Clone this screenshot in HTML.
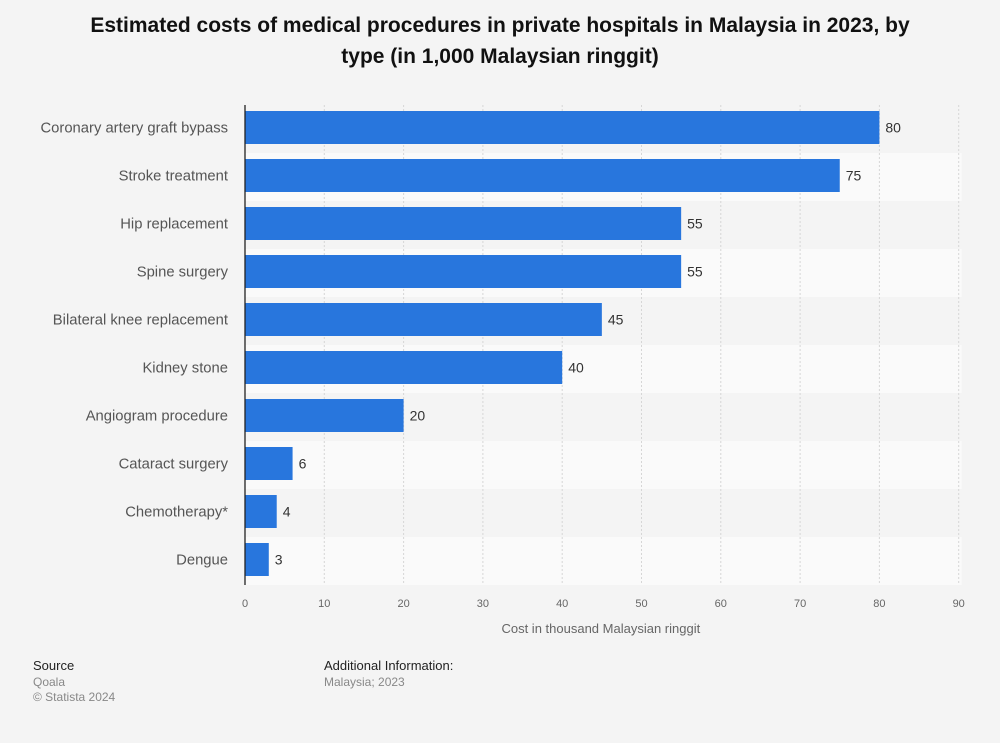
<!DOCTYPE html>
<html><head><meta charset="utf-8"><style>
body{margin:0;background:#f4f4f4;font-family:"Liberation Sans",sans-serif;}
#wrap{position:relative;width:1000px;height:743px;overflow:hidden;}
.t{position:absolute;white-space:nowrap;}
</style></head><body>
<div id="wrap">
<div class="t" style="left:0;width:1000px;top:10px;text-align:center;font-weight:bold;font-size:21px;line-height:31px;color:#111;">Estimated costs of medical procedures in private hospitals in Malaysia in 2023, by<br>type (in 1,000 Malaysian ringgit)</div>
<svg id="chart" width="1000" height="743" style="position:absolute;left:0;top:0"></svg>
<div class="t" style="left:33px;top:658px;font-size:13px;color:#222;">Source</div>
<div class="t" style="left:33px;top:675px;font-size:12px;color:#888;">Qoala</div>
<div class="t" style="left:33px;top:690px;font-size:12px;color:#888;">© Statista 2024</div>
<div class="t" style="left:324px;top:658px;font-size:13px;color:#222;">Additional Information:</div>
<div class="t" style="left:324px;top:675px;font-size:12px;color:#888;">Malaysia; 2023</div>
</div>
<script>
const categories=["Coronary artery graft bypass","Stroke treatment","Hip replacement","Spine surgery","Bilateral knee replacement","Kidney stone","Angiogram procedure","Cataract surgery","Chemotherapy*","Dengue"];
const values=[80,75,55,55,45,40,20,6,4,3];
const ticks=[0,10,20,30,40,50,60,70,80,90];
const NS="http://www.w3.org/2000/svg";
const svg=document.getElementById('chart');
const x0=245,ppu=7.93,top0=105,rowH=48,barH=33;
const xs=v=>x0+v*ppu;
const ys=i=>top0+i*rowH;
function mk(tag,attrs,txt){const e=document.createElementNS(NS,tag);for(const k in attrs)e.setAttribute(k,attrs[k]);if(txt!==undefined)e.textContent=txt;svg.appendChild(e);return e;}
categories.forEach((c,i)=>{
  if(i%2===1){const b=mk('rect',{x:x0,y:ys(i),width:xs(90)+3-x0,height:rowH,fill:'#fafafa'});
  
  }
});
ticks.forEach(t=>{
  const l=mk('line',{x1:xs(t),x2:xs(t),y1:top0,y2:ys(10),stroke:'#d6d6d6','stroke-dasharray':'2,2'});
  
  
  const tx=mk('text',{x:xs(t),y:607,'text-anchor':'middle','font-size':11,fill:'#666','font-family':'Liberation Sans'},t);
  
  
});
categories.forEach((c,i)=>{
  const y=ys(i)+6;
  const r=mk('rect',{x:x0,y:y,width:xs(values[i])-x0,height:barH,fill:'#2876dd'});
  
  
  const lb=mk('text',{x:228,y:y+barH/2+5,'text-anchor':'end','font-size':14.8,fill:'#555','font-family':'Liberation Sans'},c);
  
  
  const vl=mk('text',{x:xs(values[i])+6,y:y+barH/2+5,'font-size':14,fill:'#333','font-family':'Liberation Sans'},values[i]);
  
  
});
const ax=mk('line',{x1:x0,x2:x0,y1:top0,y2:ys(10),stroke:'#222','stroke-width':1.3});


const at=mk('text',{x:xs(45)-1,y:633,'text-anchor':'middle','font-size':13,fill:'#666','font-family':'Liberation Sans'},'Cost in thousand Malaysian ringgit');


</script>
</body></html>
